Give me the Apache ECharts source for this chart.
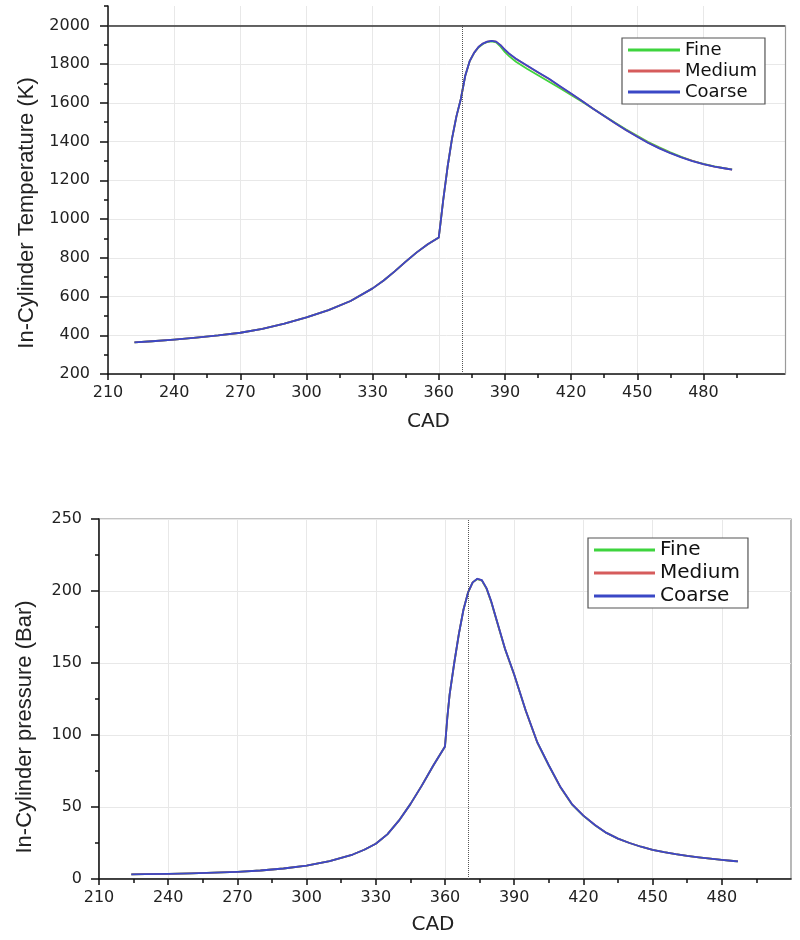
<!DOCTYPE html>
<html>
<head>
<meta charset="utf-8">
<script src="https://cdn.jsdelivr.net/npm/echarts@6/dist/echarts.min.js"></script>
<style>
html,body{margin:0;padding:0;background:#fff;}
#chart{width:800px;height:940px;}
</style>
</head>
<body>
<div id="chart"></div>
<script>
// ---------- DATA ----------
const seriesNames = ['Fine', 'Medium', 'Coarse'];
const xTickLabels = [210, 240, 270, 300, 330, 360, 390, 420, 450, 480];
const xMinorTicks = [225, 255, 285, 315, 345, 375, 405, 435, 465, 495];
const tempTickLabels = [200, 400, 600, 800, 1000, 1200, 1400, 1600, 1800, 2000];
const tempMinorTicks = [300, 500, 700, 900, 1100, 1300, 1500, 1700, 1900, 2100];
const presTickLabels = [0, 50, 100, 150, 200, 250];
const presMinorTicks = [25, 75, 125, 175, 225];

const cadTemp = [222, 230, 240, 250, 260, 270, 280, 290, 300, 310,
  320, 330, 335, 340, 345, 350, 355, 360, 361, 362,
  364, 366, 368, 370, 372, 374, 376, 378, 380, 382,
  384, 386, 388, 390, 392, 395, 400, 405, 410, 415,
  420, 425, 430, 435, 440, 445, 450, 455, 460, 465,
  470, 475, 480, 485, 490, 493];
const tempFine = [363, 369, 378, 388, 399, 413, 433, 460, 492, 530,
  577, 642, 683, 730, 780, 828, 870, 905, 1000, 1097,
  1270, 1415, 1530, 1620, 1740, 1815, 1857, 1886, 1904, 1914,
  1917, 1912, 1890, 1862, 1840, 1812, 1776, 1742, 1709, 1675,
  1640, 1606, 1569, 1533, 1497, 1462, 1430, 1398, 1370, 1344,
  1321, 1301, 1285, 1272, 1262, 1256];
const tempMedium = [363, 369, 378, 388, 399, 413, 433, 460, 492, 530,
  577, 642, 683, 730, 780, 828, 870, 905, 1000, 1097,
  1270, 1415, 1530, 1620, 1740, 1815, 1858, 1888, 1906, 1916,
  1920, 1916, 1898, 1873, 1852, 1827, 1792, 1757, 1723, 1685,
  1647, 1609, 1570, 1532, 1495, 1459, 1426, 1394, 1366, 1341,
  1319, 1300, 1284, 1271, 1261, 1255];
const tempCoarse = [363, 369, 378, 388, 399, 413, 433, 460, 492, 530,
  577, 642, 683, 730, 780, 828, 870, 905, 1000, 1097,
  1270, 1415, 1530, 1620, 1740, 1815, 1858, 1888, 1906, 1916,
  1920, 1916, 1898, 1874, 1853, 1828, 1793, 1758, 1724, 1686,
  1648, 1610, 1570, 1532, 1495, 1458, 1425, 1393, 1365, 1340,
  1318, 1299, 1284, 1271, 1261, 1255];

const cadPres = [224, 230, 240, 250, 260, 270, 280, 290, 300, 310,
  320, 325, 330, 335, 340, 345, 350, 355, 360, 361,
  362, 364, 366, 368, 370, 372, 374, 376, 378, 380,
  382, 384, 386, 388, 390, 392, 395, 400, 405, 410,
  415, 420, 425, 430, 435, 440, 445, 450, 455, 460,
  465, 470, 475, 480, 485, 487];
const presFine = [3.2, 3.4, 3.6, 3.9, 4.4, 5.0, 5.9, 7.3, 9.3, 12.4,
  17.0, 20.3, 24.5, 31.0, 40.5, 52, 65, 79, 92, 112,
  128, 150, 170, 187, 199, 206, 208.3, 207.2, 201.6, 192.6,
  181.6, 170.6, 159.7, 150.8, 141.8, 131.8, 116.8, 94.8, 78.8, 63.8,
  51.9, 43.9, 37.4, 32, 28, 25, 22.4, 20.3, 18.6, 17.2,
  16.0, 15.0, 14.1, 13.3, 12.5, 12.2];
const presMedium = [3.2, 3.4, 3.6, 3.9, 4.4, 5.0, 5.9, 7.3, 9.3, 12.4,
  17.0, 20.3, 24.5, 31.0, 40.5, 52, 65, 79, 92, 112,
  128, 150, 170, 187, 199, 206, 208.4, 207.4, 201.8, 192.8,
  181.8, 170.8, 159.9, 150.9, 141.9, 131.9, 116.9, 94.9, 78.9, 63.9,
  52, 44, 37.5, 32, 28, 25, 22.4, 20.3, 18.6, 17.2,
  16.0, 15.0, 14.1, 13.3, 12.5, 12.2];
const presCoarse = [3.2, 3.4, 3.6, 3.9, 4.4, 5.0, 5.9, 7.3, 9.3, 12.4,
  17.0, 20.3, 24.5, 31.0, 40.5, 52, 65, 79, 92, 112,
  128, 150, 170, 187, 199, 206, 208.5, 207.5, 202, 193,
  182, 171, 160, 151, 142, 132, 117, 95, 79, 64,
  52, 44, 37.5, 32, 28, 25, 22.4, 20.3, 18.6, 17.2,
  16.0, 15.0, 14.1, 13.3, 12.5, 12.2];

const tdcTemp = 370.5;
const tdcPres = 370;

// ---------- STYLE ----------
const colors = {Fine: '#3ed43e', Medium: '#d65c5c', Coarse: '#3a48c6'};
const tickFont = {fontFamily: 'DejaVu Sans', fontSize: 16, color: '#222'};
const titleFont = {fontFamily: 'Liberation Sans', fontSize: 22, color: '#222'};
const gridLine = {show: true, lineStyle: {color: '#e8e8e8', width: 1}};

function pairs(xs, ys) { return xs.map((x, i) => [x, ys[i]]); }
function plain(v) { return String(v); }

const chart = echarts.init(document.getElementById('chart'), null, {renderer: 'canvas'});

function mainX(gridIndex, max, nameGap, namePad) {
  return {
    type: 'value', gridIndex: gridIndex, min: 210, max: max, position: 'bottom',
    name: 'CAD', nameLocation: 'middle', nameGap: nameGap,
    nameTextStyle: {fontFamily: 'DejaVu Sans', fontSize: 20, color: '#222', padding: namePad},
    axisLine: {show: true, onZero: false, lineStyle: {color: '#111', width: 1.5}},
    axisTick: {show: true, customValues: xTickLabels, length: 6, lineStyle: {color: '#111', width: 1.5}},
    axisLabel: Object.assign({customValues: xTickLabels, margin: 11, formatter: plain}, tickFont),
    splitLine: gridLine
  };
}
function minorX(gridIndex, max) {
  return {
    type: 'value', gridIndex: gridIndex, min: 210, max: max, position: 'bottom',
    axisLine: {show: false}, axisLabel: {show: false}, splitLine: {show: false},
    axisTick: {show: true, customValues: xMinorTicks, length: 4, lineStyle: {color: '#111', width: 1.5}}
  };
}
function mainY(gridIndex, min, max, labels, name, nameGap, namePad, margin) {
  return {
    type: 'value', gridIndex: gridIndex, min: min, max: max, position: 'left',
    name: name, nameLocation: 'middle', nameGap: nameGap,
    nameTextStyle: Object.assign({padding: namePad}, titleFont),
    axisLine: {show: true, onZero: false, lineStyle: {color: '#111', width: 1.5}},
    axisTick: {show: true, customValues: labels, length: 8, lineStyle: {color: '#111', width: 1.5}},
    axisLabel: Object.assign({customValues: labels, margin: margin, formatter: plain}, tickFont),
    splitLine: gridLine
  };
}
function minorY(gridIndex, min, max, ticks) {
  return {
    type: 'value', gridIndex: gridIndex, min: min, max: max, position: 'left',
    axisLine: {show: false}, axisLabel: {show: false}, splitLine: {show: false},
    axisTick: {show: true, customValues: ticks, length: 4, lineStyle: {color: '#111', width: 1.5}}
  };
}

function lineSeries(name, xi, yi, data, extra) {
  return Object.assign({
    type: 'line', name: name, xAxisIndex: xi, yAxisIndex: yi,
    data: data, showSymbol: false, symbol: 'none', smooth: false,
    color: colors[name], lineStyle: {color: colors[name], width: 1.8, join: 'round'},
    animation: false, z: 3
  }, extra || {});
}

const topMax = 517, botMax = 510;

const option = {
  backgroundColor: '#ffffff',
  animation: false,
  grid: [
    {left: 108, right: 15, top: 6, bottom: 566, containLabel: false},
    {left: 99, right: 9, top: 519, bottom: 61, containLabel: false, show: true, borderColor: '#8a8a8a', borderWidth: 1.2}
  ],
  legend: [
    {orient: 'vertical', left: 622, top: 38, data: seriesNames, icon: 'rect',
     itemWidth: 52, itemHeight: 3, itemGap: 3, padding: [3, 8, 3, 6],
     borderColor: '#555', borderWidth: 1.2, backgroundColor: '#fff',
     textStyle: {fontFamily: 'DejaVu Sans', fontSize: 18, color: '#111'}, selectedMode: false},
    {orient: 'vertical', left: 588, top: 538, data: seriesNames, icon: 'rect',
     itemWidth: 61, itemHeight: 3, itemGap: 3, padding: [2, 8, 2, 6],
     borderColor: '#555', borderWidth: 1.2, backgroundColor: '#fff',
     textStyle: {fontFamily: 'DejaVu Sans', fontSize: 20, color: '#111'}, selectedMode: false}
  ],
  xAxis: [
    mainX(0, topMax, 38, [0, 36, 0, 0]),
    minorX(0, topMax),
    mainX(1, botMax, 36, [0, 24, 0, 0]),
    minorX(1, botMax)
  ],
  yAxis: [
    mainY(0, 200, 2100, tempTickLabels, 'In-Cylinder Temperature (K)', 70, [0, 46, 0, 0], 18),
    minorY(0, 200, 2100, tempMinorTicks),
    mainY(1, 0, 250, presTickLabels, 'In-Cylinder pressure (Bar)', 63, [0, 56, 0, 0], 17),
    minorY(1, 0, 250, presMinorTicks)
  ],
  series: [
    lineSeries('Fine', 0, 0, pairs(cadTemp, tempFine)),
    lineSeries('Medium', 0, 0, pairs(cadTemp, tempMedium)),
    lineSeries('Coarse', 0, 0, pairs(cadTemp, tempCoarse), {
      markLine: {
        silent: true, symbol: ['none', 'none'], label: {show: false}, animation: false,
        data: [
          [{coord: [tdcTemp, 200], lineStyle: {color: '#555', width: 1, type: 'dotted'}}, {coord: [tdcTemp, 2000]}],
          [{coord: [210, 2000], lineStyle: {color: '#333', width: 1.5, type: 'solid'}}, {coord: [topMax, 2000]}],
          [{coord: [topMax, 200], lineStyle: {color: '#9a9a9a', width: 1.2, type: 'solid'}}, {coord: [topMax, 2000]}]
        ]
      }
    }),
    lineSeries('Fine', 2, 2, pairs(cadPres, presFine)),
    lineSeries('Medium', 2, 2, pairs(cadPres, presMedium)),
    lineSeries('Coarse', 2, 2, pairs(cadPres, presCoarse), {
      markLine: {
        silent: true, symbol: ['none', 'none'], label: {show: false}, animation: false,
        data: [
          [{coord: [tdcPres, 0], lineStyle: {color: '#555', width: 1, type: 'dotted'}}, {coord: [tdcPres, 250]}]
        ]
      }
    })
  ]
};
chart.setOption(option);
</script>
</body>
</html>
